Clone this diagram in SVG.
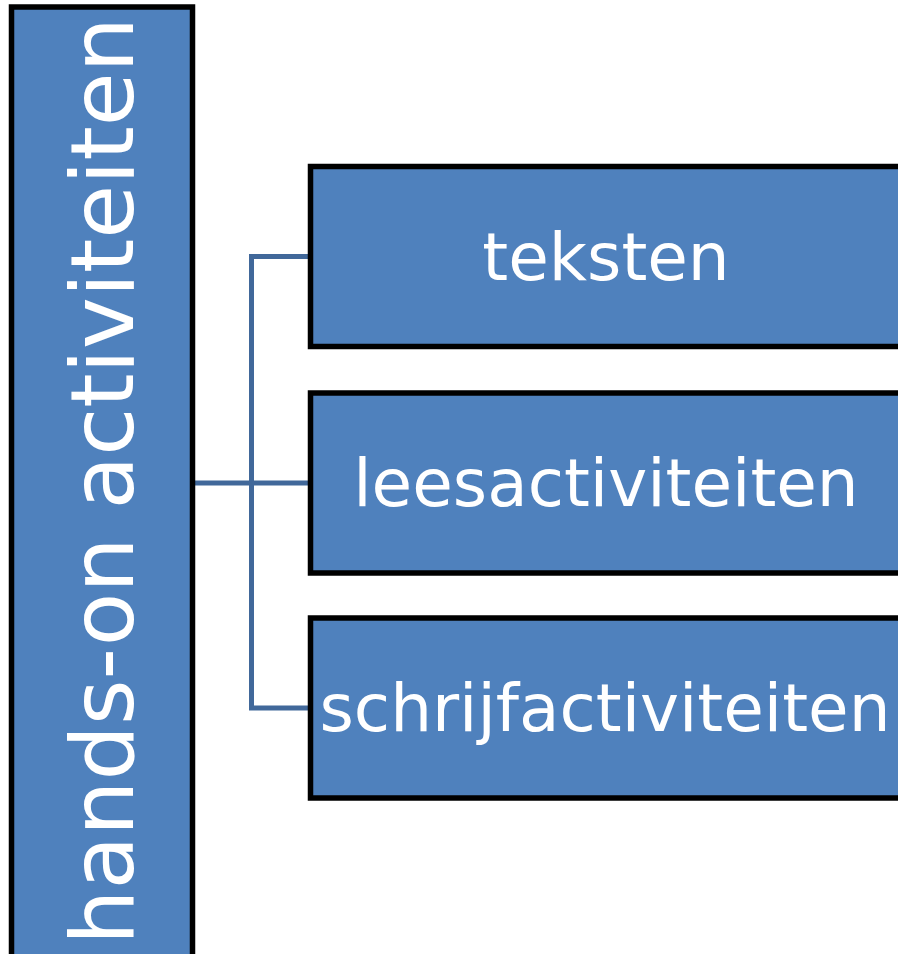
<svg xmlns="http://www.w3.org/2000/svg" width="898" height="954" viewBox="0 0 898 954">
<style>
.box{fill:#4F81BD;stroke:#000;stroke-width:5.5}
.lbl{fill:#fff;font-family:"DejaVu Sans","Verdana",sans-serif;font-size:66px;text-anchor:middle}
.conn{fill:none;stroke:#41689A;stroke-width:5}
</style>
<rect width="898" height="954" fill="#fff"/>
<g id="connectors">
<path class="conn" d="M195,483 H311"/>
<path class="conn" d="M311,256.5 H251.5 V708 H311"/>
</g>
<g id="root">
<rect class="box" x="11.5" y="7" width="181" height="960"/>
<text class="lbl" style="font-size:87.5px" transform="translate(133,481) rotate(-90)">hands-on activiteiten</text>
</g>
<g id="teksten">
<rect class="box" x="310.5" y="166.5" width="600" height="180"/>
<text class="lbl" x="606" y="280">teksten</text>
</g>
<g id="leesactiviteiten">
<rect class="box" x="310.5" y="393" width="600" height="180"/>
<text class="lbl" x="606" y="506">leesactiviteiten</text>
</g>
<g id="schrijfactiviteiten">
<rect class="box" x="310.5" y="618" width="600" height="180"/>
<text class="lbl" x="605" y="731">schrijfactiviteiten</text>
</g>
</svg>
